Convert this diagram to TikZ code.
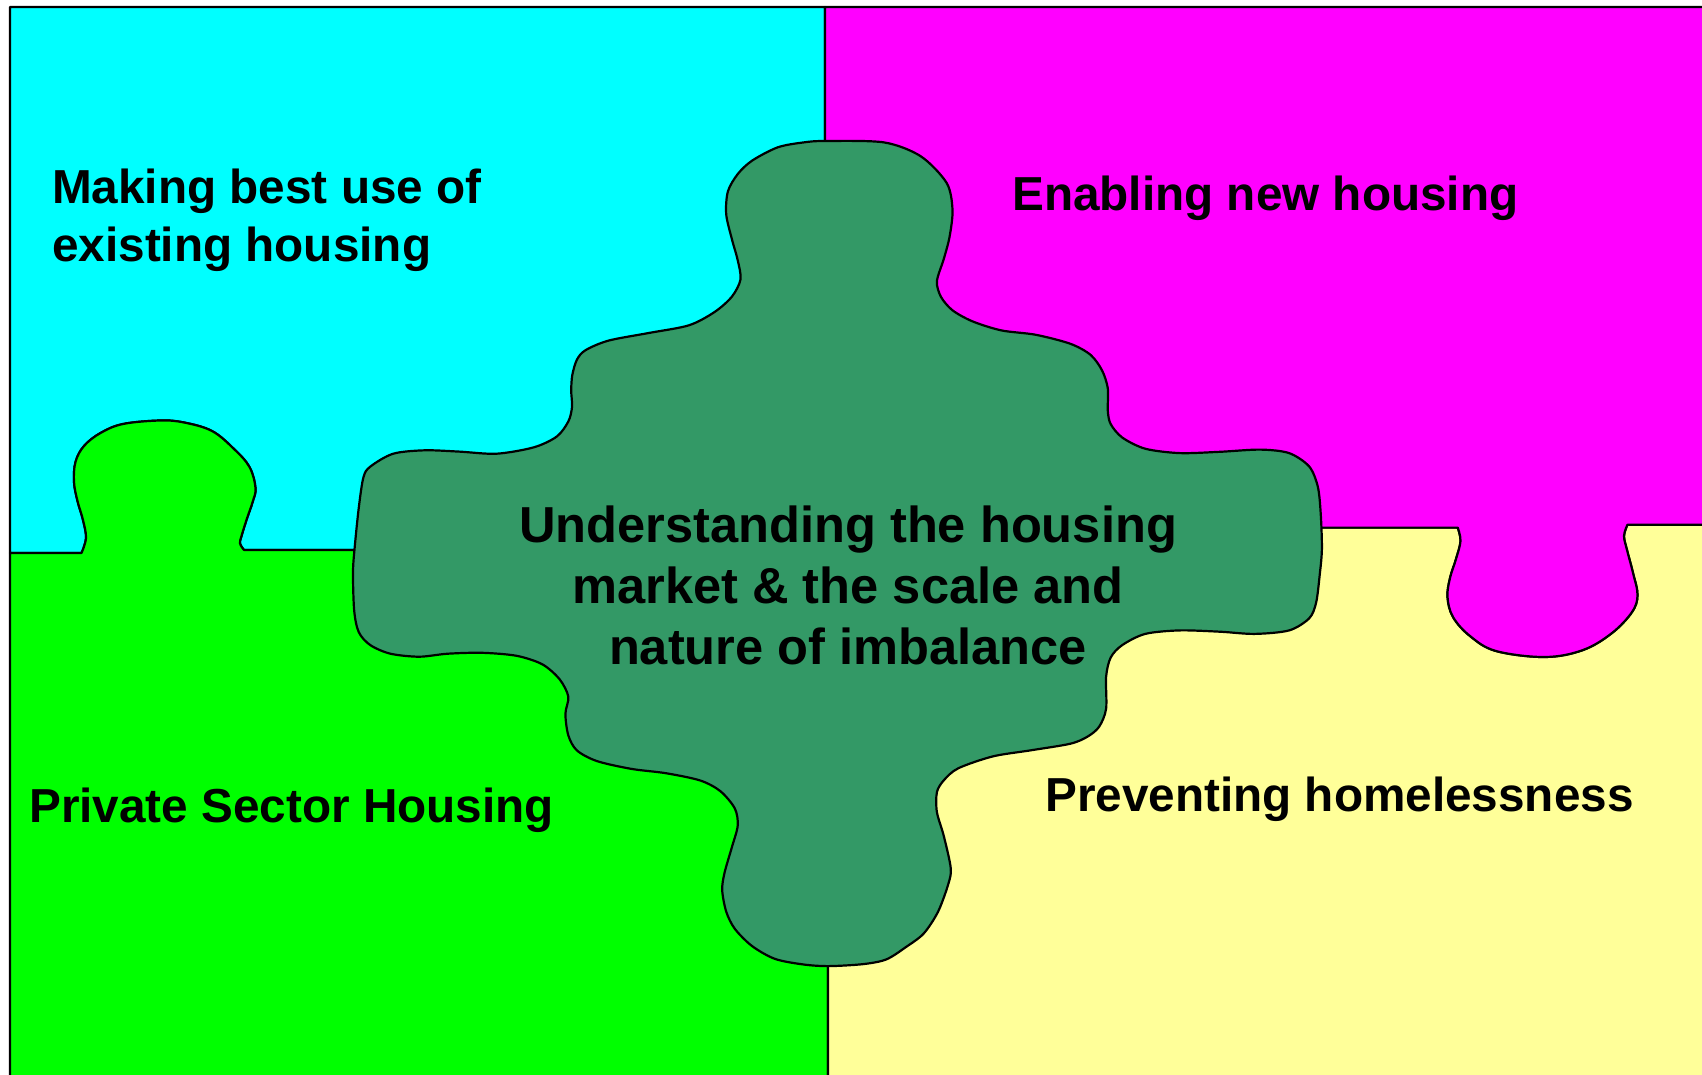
\documentclass[tikz,border=0pt]{standalone}
\usepackage{fontspec}
\setmainfont{Liberation Sans}
\definecolor{pzcyan}{HTML}{00FFFF}
\definecolor{pzmagenta}{HTML}{FF00FF}
\definecolor{pzgreen}{HTML}{00FF00}
\definecolor{pzyellow}{HTML}{FFFF99}
\definecolor{pzcore}{HTML}{339966}
\begin{document}
\begin{tikzpicture}[x=1pt,y=-1pt,
  piece/.style={draw=black,line width=2.2pt,line join=round},
  sidetxt/.style={font=\bfseries\fontsize{47.7}{57.5}\selectfont,inner sep=0pt,align=left},
  midtxt/.style={font=\bfseries\fontsize{50.6}{61}\selectfont,inner sep=0pt,align=center}]
\useasboundingbox (0,0) rectangle (1702,1074);
\fill[white] (0,0) rectangle (1702,1074);
\begin{scope}
\clip (0,0) rectangle (1702,1074);
% top-left piece
\filldraw[piece,fill=pzcyan] (81.5,553) -- plot[smooth,tension=0.6] coordinates {(81.5,553) (86,538) (83,520) (77.5,501) (74,482) (75.5,462) (84,446) (100.5,433) (123,424) (160,420.5) (184,422.5) (212,431) (234,449) (249.5,467) (255.5,488) (252.6,502) (246.8,519) (241.5,536) (240,543.4) (244,550)}
  -- (825,550) -- (825,7) -- (10,7) -- (10,553) -- cycle;
% bottom-left piece
\filldraw[piece,fill=pzgreen] (81.5,553) -- plot[smooth,tension=0.6] coordinates {(81.5,553) (86,538) (83,520) (77.5,501) (74,482) (75.5,462) (84,446) (100.5,433) (123,424) (160,420.5) (184,422.5) (212,431) (234,449) (249.5,467) (255.5,488) (252.6,502) (246.8,519) (241.5,536) (240,543.4) (244,550)}
  -- (828,550) -- (828,1090) -- (10,1090) -- (10,553) -- cycle;
% bottom-right piece
\filldraw[piece,fill=pzyellow] (1457.7,527.6) -- plot[smooth,tension=0.6] coordinates {(1457.7,527.6) (1460.5,541) (1456,559) (1450,578) (1447.5,597) (1453,617) (1470,636) (1496,651) (1545,657) (1583,650) (1612,633) (1632,612) (1637.5,595) (1633,573) (1627,550) (1624,536) (1627.4,524.8)}
  -- (1720,524.8) -- (1720,1090) -- (828,1090) -- (828,527.6) -- cycle;
% top-right piece
\filldraw[piece,fill=pzmagenta] (1457.7,527.6) -- plot[smooth,tension=0.6] coordinates {(1457.7,527.6) (1460.5,541) (1456,559) (1450,578) (1447.5,597) (1453,617) (1470,636) (1496,651) (1545,657) (1583,650) (1612,633) (1632,612) (1637.5,595) (1633,573) (1627,550) (1624,536) (1627.4,524.8)}
  -- (1720,524.8) -- (1720,7) -- (825,7) -- (825,527.6) -- cycle;
% centre piece
\filldraw[piece,fill=pzcore] plot[smooth cycle,tension=0.5] coordinates {
  (825,141) (884,142.4) (920.8,156.3) (946.7,183) (952.5,209.8) (949.6,236.6) (943.8,258.9) (936.9,281.3) (941,296.9) (952.5,310.3) (972.6,321.4) (1001.4,330.4) (1035.9,334.8) (1070.4,343.8) (1090.6,354.9) (1102.1,370.5) (1107.8,388.4) (1107.8,410.7) (1110.7,424.1) (1122.2,437.5) (1145.2,448.7) (1179.7,453.1) (1220,451.8) (1260.3,449.6) (1289.1,453.1) (1309.2,466.5) (1317.8,486.6) (1320.7,513.4) (1321.9,549.1) (1319.6,575.9) (1316.1,602.7) (1309.2,618.3) (1289.1,630.4) (1254.5,633.9) (1220,631.7) (1179.7,630.4) (1145.2,633.9) (1122.2,645.1) (1110.7,657.5) (1106.1,676.8) (1106.1,708.7) (1099.2,726.6) (1087.7,736.5) (1070.4,743.7) (1030.2,750.4) (992.8,756.4) (958.2,768.3) (943.8,780.3) (936.9,792.2) (936.9,812.1) (943.8,836) (950.7,867.8) (948.4,883.7) (938.1,911.6) (923.7,933.5) (906,947) (886.3,959.4) (863.3,964.1) (828.8,966.1) (803.7,964.5) (775,958.9) (752,946) (734.8,928.8) (726.2,911.6) (722.2,890.1) (724.5,872.9) (731.9,847.1) (737.7,825.6) (734.8,808.4) (720.4,791.2) (700.3,780.5) (665.9,773.2) (631.5,768.9) (597,761.1) (576.9,750.4) (568.3,735.3) (565.4,713.8) (568.3,696.6) (559.7,679.4) (542.5,664.4) (516.6,655.8) (482.2,652.8) (447.8,653.7) (419.1,656.7) (390.4,653.7) (370.3,645.1) (358.8,632.2) (354.2,610.7) (353,572) (354.8,546.2) (358.8,507.5) (363.4,477.4) (370.3,466.6) (393.2,453.7) (424.8,450.3) (459.2,451.6) (496.6,453.7) (533.9,447.3) (556.8,436.5) (568.3,421.5) (572,407) (571.2,390.4) (572.3,375) (576.9,359.7) (585.5,350.2) (608.5,340.6) (648.7,333) (688.9,325.3) (714.7,311.9) (731.9,296.6) (740.5,279.4) (737.7,260.2) (731.9,239.2) (726.2,214.3) (727.9,191.4) (737.7,174.1) (752,160.7) (777.8,147.3) (803.7,142.4)};
\end{scope}
% labels (multi-line labels are placed by the baseline of their last line)
\node[sidetxt,anchor=base west] (existing) at (52,261.3) {Making best use of\\existing housing};
\node[sidetxt,anchor=base west] (newhousing) at (1012,210.7) {Enabling new housing};
\node[sidetxt,anchor=base west] (private) at (29,822.7) {Private Sector Housing};
\node[sidetxt,anchor=base west] (homeless) at (1045,811.7) {Preventing homelessness};
\node[midtxt,anchor=base] (market) at (848,664.2) {Understanding the housing\\market \& the scale and\\nature of imbalance};
\end{tikzpicture}
\end{document}
